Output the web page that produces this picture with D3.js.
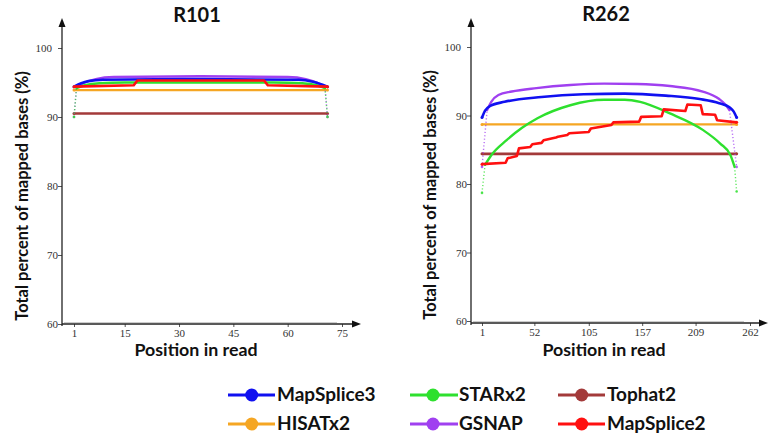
<!DOCTYPE html>
<html><head><meta charset="utf-8">
<script src="https://cdn.jsdelivr.net/npm/d3@7"></script>
<style>body{margin:0;background:#fff}svg{display:block}</style>
</head><body>
<script>
// ---------- DATA ----------
const seriesNames = ["Tophat2","HISATx2","GSNAP","STARx2","MapSplice3","MapSplice2"];
const yTicks = [60,70,80,90,100];
const xTicksR101 = [1,15,30,45,60,75];
const xTicksR262 = [1,52,105,157,209,262];
const panelTitles = ["R101","R262"];
const legendOrder = ["MapSplice3","STARx2","Tophat2","HISATx2","GSNAP","MapSplice2"];
const droppingEnds = ["GSNAP","STARx2"];

// R101 : [position, percent]
const r101_Tophat2    = [[1,90.5],[71,90.5]];
const r101_HISATx2    = [[1,93.9],[71,93.9]];
const r101_GSNAP      = [[1,90.0],[1.7,94.3],[4,95.0],[7,95.5],[12,95.8],[36,95.9],[60,95.8],[65,95.5],[68,95.0],[70.3,94.3],[71,90.0]];
const r101_STARx2     = [[1,90.0],[1.7,94.2],[4,94.6],[8,94.9],[15,95.0],[56,95.0],[64,94.9],[68,94.6],[70.3,94.2],[71,90.0]];
const r101_MapSplice3 = [[1,94.4],[3,94.9],[5,95.2],[9,95.4],[36,95.5],[63,95.4],[67,95.1],[69,94.8],[71,94.4]];
const r101_MapSplice2 = [[1,94.4],[17.5,94.6],[18.5,95.3],[53.5,95.3],[54.5,94.6],[71,94.4]];

// R262
const r262_Tophat2    = [[1,84.4],[249,84.4]];
const r262_HISATx2    = [[1,88.7],[249,88.7]];
const r262_GSNAP      = [[1,82.5],[6,90.8],[10,92.0],[17,93.0],[30,93.5],[54,94.0],[87,94.45],[120,94.65],[152,94.6],[184,94.3],[216,93.5],[232,92.4],[238,91.6],[242,90.8],[249,82.5]];
const r262_STARx2     = [[1,78.7],[4,82.8],[10,84.2],[25,86.4],[40,88.2],[55,89.6],[87,91.5],[120,92.3],[140,92.3],[155,92.0],[184,90.3],[216,87.9],[233,85.9],[243,84.2],[247,82.5],[249,78.9]];
const r262_MapSplice3 = [[1,89.7],[4,90.7],[9,91.4],[23,92.0],[59,92.7],[100,93.1],[140,93.2],[180,92.9],[213,92.4],[232,91.8],[242,91.2],[246,90.6],[249,89.7]];
const r262_MapSplice2 = [[1,82.9],[24,83.1],[26,83.75],[35,84.1],[37,85.2],[48,85.4],[50,85.8],[59,86.0],[61,86.4],[73,86.8],[75,86.9],[84,87.15],[86,87.4],[105,87.6],[107,88.1],[127,88.6],[129,89.0],[154,89.1],[156,89.8],[176,89.9],[178,90.9],[199,90.65],[201,91.6],[214,91.5],[216,90.2],[228,90.1],[230,89.3],[249,89.0]];

const r101Series = {Tophat2:r101_Tophat2,HISATx2:r101_HISATx2,GSNAP:r101_GSNAP,STARx2:r101_STARx2,MapSplice3:r101_MapSplice3,MapSplice2:r101_MapSplice2};
const r262Series = {Tophat2:r262_Tophat2,HISATx2:r262_HISATx2,GSNAP:r262_GSNAP,STARx2:r262_STARx2,MapSplice3:r262_MapSplice3,MapSplice2:r262_MapSplice2};

// ---------- STYLE ----------
const colors = {MapSplice3:"#1010f0",STARx2:"#2ee02e",Tophat2:"#a33a3a",HISATx2:"#f5a623",GSNAP:"#a040f0",MapSplice2:"#ff1010"};
const widths = {MapSplice3:2.6,STARx2:2.4,Tophat2:2.6,HISATx2:2.2,GSNAP:2.4,MapSplice2:2.6};
const FONT = "Lato, 'Open Sans', sans-serif";
const TICKFONT = "'Liberation Serif', serif";

const W = 769, H = 438;
const svg = d3.select("body").append("svg").attr("width",W).attr("height",H);

const layout = [
  {series:r101Series, xTicks:xTicksR101, xDomain:[1,75], xRange:[74,342], yRange:[324,48],
   axisX:62, axisY:324, xEnd:361, yTop:18, titleX:197, titleY:22, yTitleX:22, yTitleY:196, xTitleX:196},
  {series:r262Series, xTicks:xTicksR262, xDomain:[1,262], xRange:[482,750], yRange:[321,47],
   axisX:471, axisY:323, xEnd:768, yTop:18, titleX:606, titleY:21, yTitleX:430, yTitleY:195, xTitleX:604}
];

layout.forEach((P,i)=>{
  const x = d3.scaleLinear().domain(P.xDomain).range(P.xRange);
  const y = d3.scaleLinear().domain([60,100]).range(P.yRange);
  const g = svg.append("g");

  // title
  g.append("text").attr("x",P.titleX).attr("y",P.titleY).attr("text-anchor","middle")
    .style("font-family",FONT).style("font-weight","bold").style("font-size","20px").style("fill","#111")
    .text(panelTitles[i]);

  // y axis ticks
  const ya = g.append("g").attr("transform",`translate(${P.axisX},0)`)
    .call(d3.axisLeft(y).tickValues(yTicks).tickSize(4).tickPadding(0).tickFormat(d3.format("d")));
  ya.select(".domain").remove();
  ya.selectAll("line").attr("stroke","#555");
  ya.selectAll("text").style("font-family",TICKFONT).style("font-size","11px").style("fill","#333");
  ya.selectAll(".tick").filter(d=>d===100).select("text").attr("x",-10);

  // x axis ticks
  const xa = g.append("g").attr("transform",`translate(0,${P.axisY})`)
    .call(d3.axisBottom(x).tickValues(P.xTicks).tickSize(3).tickPadding(2));
  xa.select(".domain").remove();
  xa.selectAll("line").attr("stroke","#555");
  xa.selectAll("text").style("font-family",TICKFONT).style("font-size","11px").style("fill","#333");

  // axis lines with arrows
  g.append("line").attr("x1",P.axisX).attr("x2",P.axisX).attr("y1",P.yTop+6).attr("y2",P.axisY+2)
    .attr("stroke","#222").attr("stroke-width",1.3);
  g.append("line").attr("x1",P.axisX).attr("x2",P.xEnd-6).attr("y1",P.axisY).attr("y2",P.axisY)
    .attr("stroke","#222").attr("stroke-width",1.3);
  g.append("line").attr("x1",P.axisX+2).attr("x2",P.xEnd-24).attr("y1",P.axisY-1.5).attr("y2",P.axisY-1.5)
    .attr("stroke","#ccc").attr("stroke-width",1.2);
  g.append("path").attr("d",`M${P.axisX},${P.yTop} L${P.axisX-3.5},${P.yTop+9} L${P.axisX+3.5},${P.yTop+9}Z`).attr("fill","#111");
  g.append("path").attr("d",`M${P.xEnd},${P.axisY} L${P.xEnd-9},${P.axisY-3.5} L${P.xEnd-9},${P.axisY+3.5}Z`).attr("fill","#111");

  // axis titles
  g.append("text").attr("transform",`translate(${P.yTitleX},${P.yTitleY}) rotate(-90)`)
    .attr("text-anchor","middle").attr("dy","0.35em")
    .style("font-family",FONT).style("font-weight","bold").style("font-size","16.5px").style("fill","#111")
    .text("Total percent of mapped bases (%)");
  g.append("text").attr("x",P.xTitleX).attr("y",356).attr("text-anchor","middle")
    .style("font-family",FONT).style("font-weight","bold").style("font-size","17.8px").style("fill","#111")
    .text("Position in read");

  // lines
  const line = d3.line().x(d=>x(d[0])).y(d=>y(d[1])).curve(d3.curveMonotoneX);
  const lin = d3.line().x(d=>x(d[0])).y(d=>y(d[1]));
  seriesNames.forEach(name=>{
    const pts = P.series[name];
    const c = colors[name];
    if (droppingEnds.includes(name)) {
      const n = pts.length;
      g.append("path").attr("d",line(pts.slice(1,n-1))).attr("fill","none").attr("stroke",c)
        .attr("stroke-width",widths[name]).attr("stroke-linecap","round");
      [pts.slice(0,2), pts.slice(n-2)].forEach(seg=>{
        g.append("path").attr("d",lin(seg)).attr("fill","none").attr("stroke",c).attr("stroke-opacity",0.75)
          .attr("stroke-width",1.4).attr("stroke-dasharray","1.2,2.2");
      });
      [pts[0],pts[n-1]].forEach(p=>{
        g.append("circle").attr("cx",x(p[0])).attr("cy",y(p[1])).attr("r",1.3).attr("fill",c).attr("opacity",0.8);
      });
    } else {
      const curve = name==="MapSplice2" ? lin : line;
      g.append("path").attr("d",curve(pts)).attr("fill","none").attr("stroke",c)
        .attr("stroke-width",widths[name]).attr("stroke-linejoin","round");
      [pts[0],pts[pts.length-1]].forEach(p=>{
        g.append("circle").attr("cx",x(p[0])).attr("cy",y(p[1])).attr("r",1.5).attr("fill",c);
      });
    }
  });
});

// ---------- LEGEND ----------
const legCols = [[228,275,251.7,277],[410,458,433,459],[558,605,581.7,607]];
const legRows = [395,424];
const leg = svg.append("g");
legendOrder.forEach((name,k)=>{
  const col = legCols[k%3], ry = legRows[Math.floor(k/3)];
  leg.append("line").attr("x1",col[0]).attr("x2",col[1]).attr("y1",ry).attr("y2",ry)
    .attr("stroke",colors[name]).attr("stroke-width",3);
  leg.append("circle").attr("cx",col[2]).attr("cy",ry).attr("r",6.5).attr("fill",colors[name]);
  leg.append("text").attr("x",col[3]).attr("y",ry+6).style("font-family",FONT).style("font-weight","bold")
    .style("font-size","19px").style("fill","#111").text(name);
});
</script>
</body></html>
